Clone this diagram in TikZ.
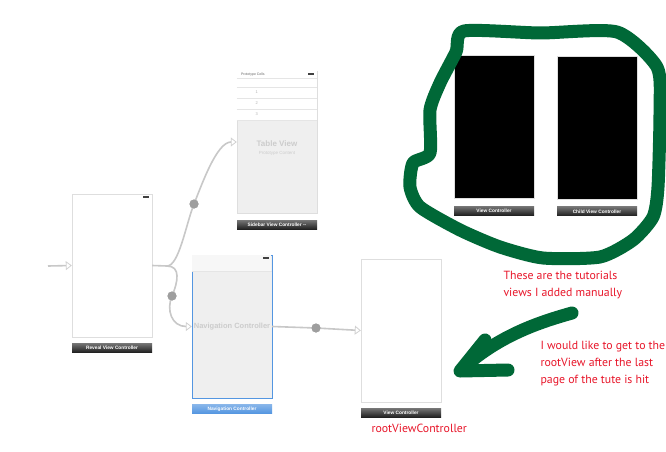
\documentclass[tikz,border=0pt]{standalone}
\usepackage{fontspec}
\setmainfont{PT Sans}
\newfontfamily\barfont{Liberation Sans}
\usetikzlibrary{arrows.meta,positioning}
\definecolor{sbgreen}{RGB}{0,104,55}
\definecolor{sbred}{RGB}{232,22,42}
\definecolor{sbgray}{RGB}{200,200,200}
\definecolor{sbpanel}{RGB}{239,239,239}
\definecolor{sbblue}{RGB}{84,150,225}

\begin{document}
\begin{tikzpicture}[x=1pt, y=-1pt,
  scene/.style={draw=black!13, fill=white, minimum width=80pt, minimum height=143pt, inner sep=0pt},
  bar/.style={top color=black!55, bottom color=black!88, minimum width=80pt, minimum height=9pt, inner sep=0pt, text=white, font=\barfont\bfseries\fontsize{4.8}{5}\selectfont},
  segue/.style={draw=sbgray, line width=1.6pt, -{Triangle[length=6pt, width=9pt, fill=white, color=black!18, line width=0.8pt]}},
  dot/.style={circle, fill=black!38, minimum size=9pt, inner sep=0pt},
  faint/.style={text=black!20, font=\barfont\bfseries\fontsize{8}{9}\selectfont},
  note/.style={text=sbred, font=\fontsize{11.8}{17}\selectfont, align=left},
  marker/.style={draw=sbgreen, line width=13pt, line cap=round, line join=round}]
\fill[white] (0,0) rectangle (666,452);
\useasboundingbox (0,0) rectangle (666,452);

% scenes
\node[scene] (reveal) at (112,265.5) {};
\node[bar, below=6pt of reveal] (revealbar) {Reveal View Controller};
\fill[black!75] ([shift={(-9,2)}]reveal.north east) rectangle ++(6,2);

\node[scene, fill=sbpanel, minimum height=142pt] (sidebar) at (277,142) {};
\fill[white] (sidebar.north west) rectangle ++(80,49);
\foreach \y in {7,16,27,38,49}
  \draw[black!10] ([shift={(0,\y)}]sidebar.north west) -- ++(80,0);
\foreach \n [count=\i] in {1,2,3}
  \node[text=black!30, font=\barfont\fontsize{4}{5}\selectfont] at ([shift={(20,10+11*\i)}]sidebar.north west) {\n};
\node[anchor=west, inner sep=0pt, text=black!60, font=\barfont\fontsize{3.5}{4}\selectfont] at ([shift={(4,3.5)}]sidebar.north west) {Prototype Cells};
\fill[black!75] ([shift={(-9,2.5)}]sidebar.north east) rectangle ++(6,2);
\node[faint] (tablev) at ([yshift=-2pt]sidebar.center) {Table View};
\node[text=black!20, font=\barfont\fontsize{4.5}{5}\selectfont, below=0pt of tablev, inner sep=0.5pt] {Prototype Content};
\node[bar, below=7pt of sidebar] (sidebarbar) {Sidebar View Controller --};

\node[scene, draw=sbblue, fill=sbpanel] (nav) at (232,326.5) {};
\fill[black!3] ([shift={(0.5,0.5)}]nav.north west) rectangle ++(79,15.5);
\draw[black!10] ([shift={(0,16)}]nav.north west) -- ++(80,0);
\fill[black!75] ([shift={(-9,2)}]nav.north east) rectangle ++(6,2);
\node[faint, font=\barfont\bfseries\fontsize{7.5}{9}\selectfont] at (nav.center) {Navigation Controller};
\node[bar, top color=sbblue!70, bottom color=sbblue!100!black, below=6pt of nav] (navbar) {Navigation Controller};

\node[scene] (root) at (401,330.5) {};
\node[bar, below=6pt of root] (rootbar) {View Controller};
\node[note, anchor=west] (rootnote) at (368,428) {rootViewController};

\node[scene, fill=black] (tutvc) at (494,126.5) {};
\node[bar, below=8pt of tutvc] (tutbar) {View Controller};
\node[scene, fill=black] (childvc) at (597,128) {};
\node[bar, below=7pt of childvc] (childbar) {Child View Controller};

% segues
\coordinate (entry) at (48,266);
\coordinate (fork) at (167,266);
\node[dot] (sd1) at (194,204) {};
\node[dot] (sd2) at (172,296) {};
\node[dot] (sd3) at (316,328) {};
\draw[segue] (entry) -- (reveal.west);
\draw[draw=sbgray, line width=1.6pt] (reveal.east) -- (fork);
\draw[segue] (fork) .. controls +(12,0) and +(-8,20) .. (sd1.center)
  .. controls +(8,-20) and +(-20,0) .. (sidebar.west);
\draw[segue] (fork) .. controls +(14,0) and +(6,-14) .. (sd2.center)
  .. controls +(-6,14) and +(-20,0) .. (nav.west);
\draw[segue] (nav.east) -- (sd3.center) -- (root.west);
\foreach \s in {sd1,sd2,sd3}
  \node[dot] at (\s) {};

% hand drawn notes
\draw[marker] plot[smooth cycle, tension=0.4] coordinates {(464,31) (540,33) (617,32)
  (657,67) (660,110) (658,187) (653,217) (633,240) (600,257) (543,258) (500,247)
  (460,230) (420,207) (410,187) (413,163) (430,153) (430,110) (440,83) (456,52)};
\draw[marker] (572,313) .. controls (540,322) and (500,335) .. (463,368);
\draw[marker] (485,340) -- (460,371) -- (508,370);
\node[note, anchor=west] (tutnote) at (500,285) {These are the tutorials\\views I added manually};
\node[note, anchor=west] (hitnote) at (537,364) {I would like to get to the\\rootView after the last\\page of the tute is hit};
\end{tikzpicture}
\end{document}
